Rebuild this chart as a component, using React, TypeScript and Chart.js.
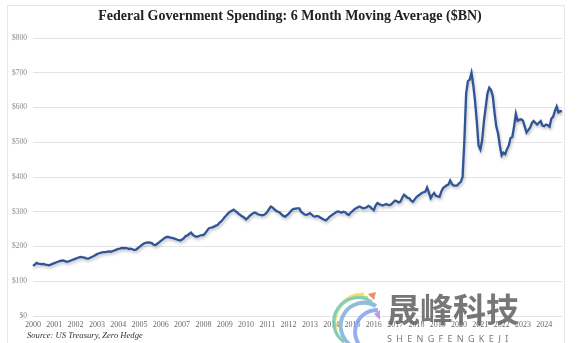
import React, { useEffect, useRef } from "react";
import { Chart, registerables } from "chart.js";

Chart.register(...registerables);

const startYear = 2000;
const titleText = "Federal Government Spending: 6 Month Moving Average ($BN)";
const sourceText = "Source: US Treasury, Zero Hedge";
const yTicks = [0, 100, 200, 300, 400, 500, 600, 700, 800];

// monthly 6-month moving average, $BN (Jan 2000 .. Nov 2024)
const spending: number[] = [
  // 2000
  144, 148, 153, 151, 150, 149, 150, 148, 147, 146, 148, 150,
  // 2001
  152, 154, 156, 158, 159, 160, 158, 156, 157, 159, 161, 163,
  // 2002
  165, 167, 169, 170, 169, 168, 166, 165, 167, 170, 172, 175,
  // 2003
  178, 180, 182, 183, 184, 184, 185, 186, 185, 187, 189, 191,
  // 2004
  193, 194, 196, 195, 196, 195, 193, 194, 192, 190, 191, 195,
  // 2005
  199, 203, 207, 210, 211, 212, 211, 209, 205, 204, 208, 212,
  // 2006
  216, 220, 224, 227, 228, 226, 225, 224, 222, 220, 218, 217,
  // 2007
  220, 224, 230, 232, 236, 240, 234, 230, 228, 229, 231, 233,
  // 2008
  233, 238, 245, 252, 254, 255, 257, 260, 262, 268, 272, 278,
  // 2009
  285, 290, 296, 300, 303, 306, 302, 298, 293, 290, 286, 283,
  // 2010
  278, 282, 288, 292, 296, 298, 295, 292, 291, 290, 291, 294,
  // 2011
  300, 308, 315, 312, 307, 303, 300, 298, 292, 288, 286, 290,
  // 2012
  294, 300, 306, 308, 309, 310, 310, 300, 296, 292, 291, 293,
  // 2013
  296, 292, 287, 286, 288, 286, 283, 280, 277, 275, 280, 285,
  // 2014
  289, 293, 296, 300, 301, 299, 298, 300, 298, 293, 291, 298,
  // 2015
  302, 307, 310, 313, 315, 312, 310, 311, 313, 317, 314, 308,
  // 2016
  305, 318, 325, 322, 320, 318, 320, 322, 320, 319, 322, 328,
  // 2017
  332, 330, 327, 329, 340, 349, 345, 340, 339, 332, 329, 335,
  // 2018
  342, 346, 350, 354, 356, 358, 370, 355, 339, 348, 354, 346,
  // 2019
  344, 343, 358, 368, 372, 376, 378, 390, 380, 375, 375, 376,
  // 2020
  382, 386, 400, 505, 640, 676, 680, 700, 665, 620, 560, 490,
  // 2021
  479, 505, 560, 600, 640, 657, 650, 633, 585, 545, 525, 490,
  // 2022
  462, 470, 466, 480, 490, 512, 515, 545, 582, 562, 565, 566,
  // 2023
  562, 545, 528, 535, 542, 555, 561, 556, 551, 556, 561, 548,
  // 2024
  546, 551, 549, 545, 568, 573, 590, 603, 586, 590, 588,
];

const monthLabels: string[] = spending.map((_, i) => {
  const y = startYear + Math.floor(i / 12);
  const m = (i % 12) + 1;
  return `${y}-${m < 10 ? "0" + m : m}`;
});

const shadowPlugin = {
  id: "lineShadow",
  beforeDatasetsDraw(chart: any) {
    const ctx = chart.ctx;
    ctx.save();
    ctx.shadowColor = "rgba(0,0,0,0.25)";
    ctx.shadowBlur = 3;
    ctx.shadowOffsetX = 1;
    ctx.shadowOffsetY = 2;
  },
  afterDatasetsDraw(chart: any) {
    chart.ctx.restore();
  },
};

export default function App() {
  const ref = useRef<HTMLCanvasElement | null>(null);

  useEffect(() => {
    if (!ref.current) return;
    const chart = new Chart(ref.current, {
      type: "line",
      data: {
        labels: monthLabels,
        datasets: [
          {
            data: spending,
            borderColor: "#2f5597",
            borderWidth: 2.3,
            pointRadius: 0,
            tension: 0,
            fill: false,
          },
        ],
      },
      options: {
        animation: false,
        responsive: false,
        maintainAspectRatio: false,
        layout: { padding: { left: 0, top: 38, right: 15, bottom: 0 } },
        plugins: {
          legend: { display: false },
          title: { display: false },
          tooltip: { enabled: false },
        },
        scales: {
          x: {
            type: "category",
            grid: { display: false, drawTicks: false },
            border: { display: false },
            afterFit: (s: any) => {
              s.height = 27;
            },
            ticks: {
              autoSkip: false,
              maxRotation: 0,
              minRotation: 0,
              padding: 4,
              color: "#6a6a6a",
              font: { family: "'Liberation Serif', 'DejaVu Serif', serif", size: 8 },
              callback: (_v: any, i: number) =>
                i % 12 === 0 ? String(startYear + i / 12) : "",
            },
          },
          y: {
            min: 0,
            max: 800,
            afterFit: (s: any) => {
              s.width = 33;
            },
            afterBuildTicks: (s: any) => {
              s.ticks = yTicks.map((v) => ({ value: v }));
            },
            grid: { color: "#e3e3e3", lineWidth: 1, drawTicks: false },
            border: { display: false },
            ticks: {
              padding: 6,
              color: "#8a8a8a",
              font: { family: "'Liberation Serif', 'DejaVu Serif', serif", size: 7.5 },
              callback: (v: any) => "$" + v,
            },
          },
        },
      },
      plugins: [shadowPlugin],
    });
    return () => chart.destroy();
  }, []);

  return (
    <div
      style={{
        position: "fixed",
        left: 0,
        top: 0,
        width: 577,
        height: 343,
        background: "#fff",
        overflow: "hidden",
      }}
    >
      <div
        style={{
          position: "absolute",
          left: 7,
          top: 5,
          width: 558,
          height: 345,
          border: "1px solid #e6e6e6",
          boxSizing: "border-box",
        }}
      />
      <canvas ref={ref} width={577} height={343} style={{ position: "absolute", left: 0, top: 0 }} />
      <div
        style={{
          position: "absolute",
          left: 0,
          width: 580,
          top: 8,
          textAlign: "center",
          fontFamily: "'Liberation Serif', 'DejaVu Serif', serif",
          fontWeight: "bold",
          fontSize: 14,
          color: "#222",
          whiteSpace: "nowrap",
        }}
      >
        {titleText}
      </div>
      <div
        style={{
          position: "absolute",
          left: 27,
          top: 330,
          fontFamily: "'Liberation Serif', 'DejaVu Serif', serif",
          fontStyle: "italic",
          fontSize: 8.6,
          color: "#333",
          whiteSpace: "nowrap",
        }}
      >
        {sourceText}
      </div>
      <svg
        width={60}
        height={60}
        style={{ position: "absolute", left: 324, top: 290, opacity: 0.8 }}
      >
        <path d="M40 4 A28 28 0 0 0 12 40" stroke="#f6d94a" strokeWidth={3} fill="none" />
        <path d="M44 8 A26 26 0 0 0 14 46" stroke="#a6d96a" strokeWidth={3} fill="none" />
        <path d="M48 12 A24 24 0 0 0 20 52" stroke="#66c2a5" strokeWidth={3} fill="none" />
        <path d="M52 16 A22 22 0 0 0 28 56" stroke="#74add1" strokeWidth={4} fill="none" />
        <path d="M54 20 A22 22 0 0 0 38 58" stroke="#7b9cf0" strokeWidth={4} fill="none" />
        <path d="M44 4 L52 2 L50 10 Z" fill="#f46d43" />
        <path d="M50 24 L56 20 L56 30 Z" fill="#b27ee0" />
      </svg>
      <div
        style={{
          position: "absolute",
          left: 387,
          top: 289,
          fontFamily: "'Noto Sans CJK SC', sans-serif",
          fontWeight: "bold",
          fontSize: 33,
          lineHeight: "38px",
          color: "rgba(95,95,95,0.85)",
          whiteSpace: "nowrap",
        }}
      >
        晟峰科技
      </div>
      <div
        style={{
          position: "absolute",
          left: 387,
          top: 333,
          fontFamily: "'Noto Sans', sans-serif",
          fontSize: 9,
          lineHeight: "11px",
          letterSpacing: 4.3,
          color: "rgba(95,95,95,0.85)",
          whiteSpace: "nowrap",
        }}
      >
        SHENGFENGKEJI
      </div>
    </div>
  );
}
